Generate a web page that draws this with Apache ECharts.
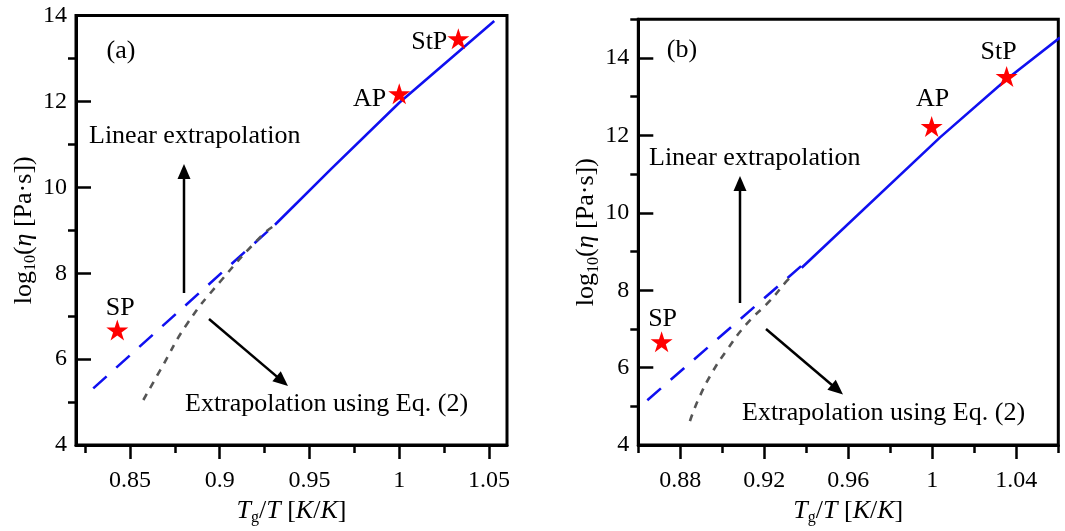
<!DOCTYPE html>
<html><head><meta charset="utf-8">
<script src="https://cdn.jsdelivr.net/npm/echarts@6/dist/echarts.min.js"></script>
<style>html,body{margin:0;padding:0;background:#fff}#c{width:1065px;height:531px}</style>
</head><body><div id="c"></div>
<script>
// ---------- Panel (a) data ----------
const a_linDashX = [0.8296, 0.9308];
const a_linDashY = [5.32, 9.13];
const a_solidX = [0.9308, 0.9624, 1.0, 1.0529];
const a_solidY = [9.13, 10.44, 11.97, 13.87];
const a_eq2X = [0.8575, 0.867, 0.882, 0.900, 0.924, 0.931];
const a_eq2Y = [5.05, 5.75, 6.83, 7.79, 8.90, 9.12];
const a_starX = [0.843, 1.0, 1.0329];
const a_starY = [6.68, 12.18, 13.46];
const a_xTicks = [0.85, 0.9, 0.95, 1, 1.05];
const a_xMinor = [0.825, 0.875, 0.925, 0.975, 1.025];
const a_yTicks = [4, 6, 8, 10, 12, 14];
const a_yMinor = [5, 7, 9, 11, 13];
// ---------- Panel (b) data ----------
const b_linDashX = [0.8643, 0.9402];
const b_linDashY = [5.16, 8.75];
const b_solidX = [0.9378, 1.0037, 1.0354, 1.0608];
const b_solidY = [8.58, 11.95, 13.45, 14.53];
const b_eq2X = [0.8846, 0.8886, 0.8950, 0.9021, 0.9116, 0.9227, 0.9307, 0.934];
const b_eq2Y = [4.62, 5.18, 5.86, 6.45, 7.13, 7.73, 8.24, 8.42];
const b_starX = [0.8711, 0.9997, 1.0354];
const b_starY = [6.67, 12.23, 13.52];
const b_xTicks = [0.88, 0.92, 0.96, 1, 1.04];
const b_xMinor = [0.86, 0.90, 0.94, 0.98, 1.02, 1.06];
const b_yTicks = [4, 6, 8, 10, 12, 14];
const b_yMinor = [5, 7, 9, 11, 13, 15];
const starNames = ['SP', 'AP', 'StP'];

const FONT = 'Liberation Serif';
const BLUE = '#1010f0';
const GRAY = '#555555';
const zip = (xs, ys) => xs.map((x, i) => [x, ys[i]]);
const STAR = 'path://M50,0 L61.2,34.5 L97.6,34.5 L68.2,55.9 L79.4,90.5 L50,69.1 L20.6,90.5 L31.8,55.9 L2.4,34.5 L38.8,34.5 Z';

const rich = {
  n: {fontFamily: FONT, fontSize: 26, color: '#000', lineHeight: 30},
  i: {fontFamily: FONT, fontSize: 26, color: '#000', fontStyle: 'italic', lineHeight: 30},
  s: {fontFamily: FONT, fontSize: 16, color: '#000', verticalAlign: 'bottom', lineHeight: 16}
};
const xName = '{i|T}{s|g}{n|/}{i|T}{n| [}{i|K}{n|/}{i|K}{n|]}';
const yName = '{n|log}{s|10}{n|(}{i|η}{n| [Pa·s])}';

function mainX(grid, min, max, ticks) {
  return {gridIndex: grid, type: 'value', min: min, max: max, position: 'bottom',
    axisLine: {show: true, onZero: false, lineStyle: {color: '#000', width: 3}},
    axisTick: {show: true, inside: false, length: 14, customValues: ticks, lineStyle: {color: '#000', width: 2.5}},
    axisLabel: {show: true, customValues: ticks, fontFamily: FONT, fontSize: 24, color: '#000', margin: 24},
    splitLine: {show: false},
    name: xName, nameLocation: 'middle', nameGap: 50, nameTextStyle: {rich: rich}};
}
function minorX(grid, min, max, ticks) {
  return {gridIndex: grid, type: 'value', min: min, max: max, position: 'bottom',
    axisLine: {show: false, onZero: false},
    axisTick: {show: true, inside: false, length: 8, customValues: ticks, lineStyle: {color: '#000', width: 2.5}},
    axisLabel: {show: false}, splitLine: {show: false}};
}
function mainY(grid, min, max, ticks) {
  return {gridIndex: grid, type: 'value', min: min, max: max, position: 'left',
    axisLine: {show: true, onZero: false, lineStyle: {color: '#000', width: 3}},
    axisTick: {show: true, inside: true, length: 15, customValues: ticks, lineStyle: {color: '#000', width: 2.5}},
    axisLabel: {show: true, customValues: ticks, fontFamily: FONT, fontSize: 24, color: '#000', margin: 9},
    splitLine: {show: false},
    name: yName, nameLocation: 'middle', nameGap: 37, nameRotate: 90, nameTextStyle: {rich: rich}};
}
function minorY(grid, min, max, ticks) {
  return {gridIndex: grid, type: 'value', min: min, max: max, position: 'left',
    axisLine: {show: false, onZero: false},
    axisTick: {show: true, inside: false, length: 8, customValues: ticks, lineStyle: {color: '#000', width: 2.5}},
    axisLabel: {show: false}, splitLine: {show: false}};
}

function starData(xs, ys, labelCfg) {
  return xs.map((x, i) => ({value: [x, ys[i]], name: starNames[i], label: labelCfg[i]}));
}
const labBase = {show: true, formatter: '{b}', fontFamily: FONT, fontSize: 26, color: '#000', opacity: 1};
const a_labels = [
  Object.assign({}, labBase, {position: 'top', distance: -2, offset: [3, 0]}),
  Object.assign({}, labBase, {position: 'left', distance: 2, offset: [0, 5]}),
  Object.assign({}, labBase, {position: 'left', distance: 0, offset: [0, 3]})
];
const b_labels = [
  Object.assign({}, labBase, {position: 'top', distance: -1, offset: [1, 0]}),
  Object.assign({}, labBase, {position: 'top', distance: 4, offset: [1, 0]}),
  Object.assign({}, labBase, {position: 'top', distance: 1, offset: [-8, 0]})
];

function lineSeries(xi, yi, data, color, type, smooth) {
  return {type: 'line', xAxisIndex: xi, yAxisIndex: yi, data: data, showSymbol: false, symbol: 'none',
    smooth: smooth || false, silent: true, z: 3,
    lineStyle: {color: color, width: 2.6, type: type, dashOffset: 0, opacity: 1}};
}
function starSeries(xi, yi, data) {
  return {type: 'scatter', xAxisIndex: xi, yAxisIndex: yi, data: data, symbol: STAR, symbolSize: [22, 21],
    itemStyle: {color: '#ff0000', opacity: 1}, z: 5, silent: true};
}

function arrow(x1, y1, x2, y2) {
  const dx = x2 - x1, dy = y2 - y1, L = Math.hypot(dx, dy);
  const ux = dx / L, uy = dy / L, hl = 15, hw = 6.5;
  const bx = x2 - ux * hl, by = y2 - uy * hl;
  return [
    {type: 'line', shape: {x1: x1, y1: y1, x2: bx + ux * 2, y2: by + uy * 2}, style: {stroke: '#000', lineWidth: 2.5}, z: 10},
    {type: 'polygon', shape: {points: [[x2, y2], [bx - uy * hw, by + ux * hw], [bx + uy * hw, by - ux * hw]]}, style: {fill: '#000'}, z: 10}
  ];
}
function txt(x, y, s, align) {
  return {type: 'text', x: x, y: y, z: 10,
    style: {text: s, fill: '#000', font: '26px "' + FONT + '"', textAlign: align || 'left', textVerticalAlign: 'middle'}};
}

const chart = echarts.init(document.getElementById('c'), null, {renderer: 'canvas'});
chart.setOption({
  backgroundColor: '#fff',
  animation: false,
  grid: [
    {left: 76, top: 15.5, width: 431, height: 434, show: true, borderColor: '#000', borderWidth: 3, containLabel: false},
    {left: 638.3, top: 19.3, width: 420, height: 430.1, show: true, borderColor: '#000', borderWidth: 3, containLabel: false}
  ],
  xAxis: [
    mainX(0, 0.82, 1.06, a_xTicks), minorX(0, 0.82, 1.06, a_xMinor),
    mainX(1, 0.86, 1.06, b_xTicks), minorX(1, 0.86, 1.06, b_xMinor)
  ],
  yAxis: [
    mainY(0, 4, 14, a_yTicks), minorY(0, 4, 14, a_yMinor),
    mainY(1, 4, 15, b_yTicks), minorY(1, 4, 15, b_yMinor)
  ],
  series: [
    lineSeries(0, 0, zip(a_linDashX, a_linDashY), BLUE, [18, 13]),
    lineSeries(0, 0, zip(a_solidX, a_solidY), BLUE, 'solid'),
    lineSeries(0, 0, zip(a_eq2X, a_eq2Y), GRAY, [7, 7], true),
    starSeries(0, 0, starData(a_starX, a_starY, a_labels)),
    lineSeries(2, 2, zip(b_linDashX, b_linDashY), BLUE, [18, 13]),
    lineSeries(2, 2, zip(b_solidX, b_solidY), BLUE, 'solid'),
    lineSeries(2, 2, zip(b_eq2X, b_eq2Y), GRAY, [7, 7], true),
    starSeries(2, 2, starData(b_starX, b_starY, b_labels))
  ],
  graphic: [].concat(
    [txt(121, 51, '(a)', 'center'),
     txt(89, 136, 'Linear extrapolation'),
     txt(185, 404, 'Extrapolation using Eq. (2)'),
     txt(682, 50, '(b)', 'center'),
     txt(649, 158, 'Linear extrapolation'),
     txt(742, 413, 'Extrapolation using Eq. (2)')],
    arrow(184, 293, 184, 164),
    arrow(209, 319, 288, 386),
    arrow(740, 303, 740, 176),
    arrow(766, 329, 843, 394.5)
  )
});
</script></body></html>
